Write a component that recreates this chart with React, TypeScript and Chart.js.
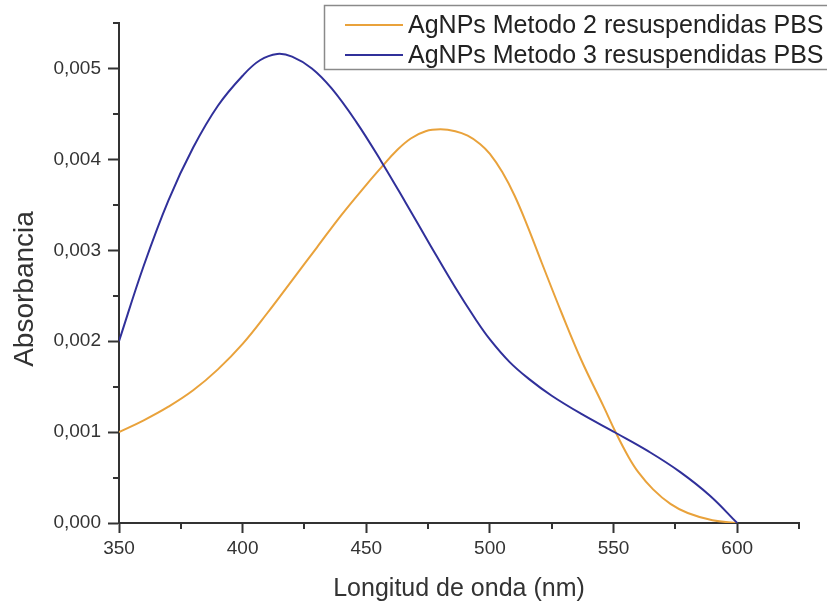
import React, { useEffect, useRef } from "react";
import { Chart, registerables } from "chart.js";

Chart.register(...registerables);

// ---- Data ----
const seriesLabels = [
  "AgNPs Metodo 2 resuspendidas PBS",
  "AgNPs Metodo 3 resuspendidas PBS",
];

const m2Wavelength = [350, 360, 370, 380, 390, 400, 410, 420, 430, 440, 450, 457, 462, 468, 474, 480, 486, 491, 496, 500, 505, 510, 515, 521, 529, 537, 546, 551, 556, 560, 566, 573, 580, 590, 600];
const m2Absorbance = [0.00100, 0.00113, 0.00128, 0.00146, 0.00169, 0.00197, 0.00231, 0.00267, 0.00303, 0.00339, 0.00372, 0.00394, 0.00409, 0.00423, 0.00431, 0.00433, 0.00431, 0.00426, 0.00417, 0.00406, 0.00386, 0.00360, 0.00328, 0.00286, 0.00231, 0.00179, 0.00128, 0.00099, 0.00073, 0.00056, 0.00037, 0.00021, 0.00011, 0.00003, 0.00000];

const m3Wavelength = [350, 360, 370, 380, 390, 400, 407, 414, 420, 428, 436, 446, 456, 466, 476, 486, 494, 500, 508, 516, 525, 537, 551, 564, 577, 589, 600];
const m3Absorbance = [0.00200, 0.00283, 0.00355, 0.00413, 0.00459, 0.00492, 0.00509, 0.00516, 0.00513, 0.00500, 0.00478, 0.00441, 0.00398, 0.00352, 0.00305, 0.00259, 0.00225, 0.00202, 0.00177, 0.00158, 0.00140, 0.00120, 0.00099, 0.00079, 0.00056, 0.00030, 0.00000];

const xMin = 350;
const xMax = 625;
const xStep = 50;
const yMin = 0;
const yMax = 0.0055;
const yStep = 0.001;

const xTitle = "Longitud de onda (nm)";
const yTitle = "Absorbancia";

const colors = ["#E9A23B", "#30309A"];
const axisColor = "#333333";
const FONT = "'Liberation Sans', Arial, Helvetica, sans-serif";

const formatY = (v: number) => v.toFixed(3).replace(".", ",");

const minorTicksPlugin = {
  id: "minorTicks",
  afterDraw(chart: any) {
    const ctx = chart.ctx;
    const xs = chart.scales.x;
    const ys = chart.scales.y;
    ctx.save();
    ctx.strokeStyle = axisColor;
    ctx.lineWidth = 2;
    ctx.beginPath();
    for (let v = xMin + xStep / 2; v <= xMax + 1e-9; v += xStep) {
      const px = Math.round(xs.getPixelForValue(v));
      ctx.moveTo(px, ys.bottom);
      ctx.lineTo(px, ys.bottom + 6);
    }
    for (let v = yMin + yStep / 2; v <= yMax + 1e-12; v += yStep) {
      const py = Math.round(ys.getPixelForValue(v));
      ctx.moveTo(xs.left, py);
      ctx.lineTo(xs.left - 6, py);
    }
    ctx.stroke();
    ctx.restore();
  },
};

const yTitlePlugin = {
  id: "yTitle",
  afterDraw(chart: any) {
    const ctx = chart.ctx;
    const area = chart.chartArea;
    ctx.save();
    ctx.translate(25, (area.top + area.bottom) / 2 + 16);
    ctx.rotate(-Math.PI / 2);
    ctx.font = `28px ${FONT}`;
    ctx.fillStyle = "#333333";
    ctx.textAlign = "center";
    ctx.textBaseline = "middle";
    ctx.fillText(yTitle, 0, 0);
    ctx.restore();
  },
};

const boxLegendPlugin = {
  id: "boxLegend",
  afterDraw(chart: any) {
    const ctx = chart.ctx;
    const left = 324.5;
    const top = 5.5;
    const rowH = 30;
    ctx.save();
    ctx.fillStyle = "#ffffff";
    ctx.fillRect(left, top, 520, 64);
    ctx.strokeStyle = "#8a8a8a";
    ctx.lineWidth = 1.5;
    ctx.strokeRect(left, top, 520, 64);
    ctx.font = `25px ${FONT}`;
    ctx.textBaseline = "middle";
    ctx.textAlign = "left";
    chart.data.datasets.forEach((ds: any, i: number) => {
      const y = top + 19.5 + i * rowH;
      ctx.strokeStyle = ds.borderColor;
      ctx.lineWidth = 2;
      ctx.beginPath();
      ctx.moveTo(345, y);
      ctx.lineTo(403, y);
      ctx.stroke();
      ctx.fillStyle = "#222222";
      ctx.fillText(ds.label, 408, y + 1);
    });
    ctx.restore();
  },
};

export default function App() {
  const ref = useRef<HTMLCanvasElement | null>(null);

  useEffect(() => {
    if (!ref.current) return;
    const chart = new Chart(ref.current, {
      type: "line",
      data: {
        datasets: [
          {
            label: seriesLabels[0],
            data: m2Wavelength.map((x, i) => ({ x, y: m2Absorbance[i] })),
            borderColor: colors[0],
            backgroundColor: colors[0],
            borderWidth: 2,
            pointRadius: 0,
            tension: 0.4,
            fill: false,
            order: 1,
          },
          {
            label: seriesLabels[1],
            data: m3Wavelength.map((x, i) => ({ x, y: m3Absorbance[i] })),
            borderColor: colors[1],
            backgroundColor: colors[1],
            borderWidth: 2,
            pointRadius: 0,
            tension: 0.4,
            fill: false,
            order: 0,
          },
        ],
      },
      options: {
        animation: false,
        responsive: false,
        maintainAspectRatio: false,
        layout: { padding: { top: 23, right: 28, left: 0, bottom: 0 } },
        plugins: {
          legend: { display: false },
          title: { display: false },
          tooltip: { enabled: false },
        },
        scales: {
          x: {
            type: "linear",
            min: xMin,
            max: xMax,
            border: { display: true, color: axisColor, width: 2 },
            grid: {
              display: true,
              drawOnChartArea: false,
              drawTicks: true,
              tickLength: 10,
              tickColor: axisColor,
              tickWidth: 2,
            },
            ticks: {
              stepSize: xStep,
              includeBounds: false,
              color: "#333333",
              font: { family: FONT, size: 19 },
              padding: 4,
              maxRotation: 0,
              autoSkip: false,
            },
            title: {
              display: true,
              text: xTitle,
              color: "#333333",
              font: { family: FONT, size: 25 },
              padding: { top: 0, bottom: 1 },
            },
            afterFit(scale: any) {
              scale.height = 82;
            },
          },
          y: {
            type: "linear",
            min: yMin,
            max: yMax,
            border: { display: true, color: axisColor, width: 2 },
            grid: {
              display: true,
              drawOnChartArea: false,
              drawTicks: true,
              tickLength: 11,
              tickColor: axisColor,
              tickWidth: 2,
            },
            ticks: {
              stepSize: yStep,
              includeBounds: false,
              color: "#333333",
              font: { family: FONT, size: 19 },
              padding: 7,
              autoSkip: false,
              callback: (v: any) => formatY(Number(v)),
            },
            afterFit(scale: any) {
              scale.width = 119;
            },
          },
        },
      },
      plugins: [minorTicksPlugin, yTitlePlugin, boxLegendPlugin],
    } as any);
    return () => chart.destroy();
  }, []);

  return (
    <div style={{ position: "fixed", left: 0, top: 0, width: 827, height: 605, background: "#ffffff" }}>
      <canvas ref={ref} width={827} height={605} style={{ display: "block", width: 827, height: 605 }} />
    </div>
  );
}
